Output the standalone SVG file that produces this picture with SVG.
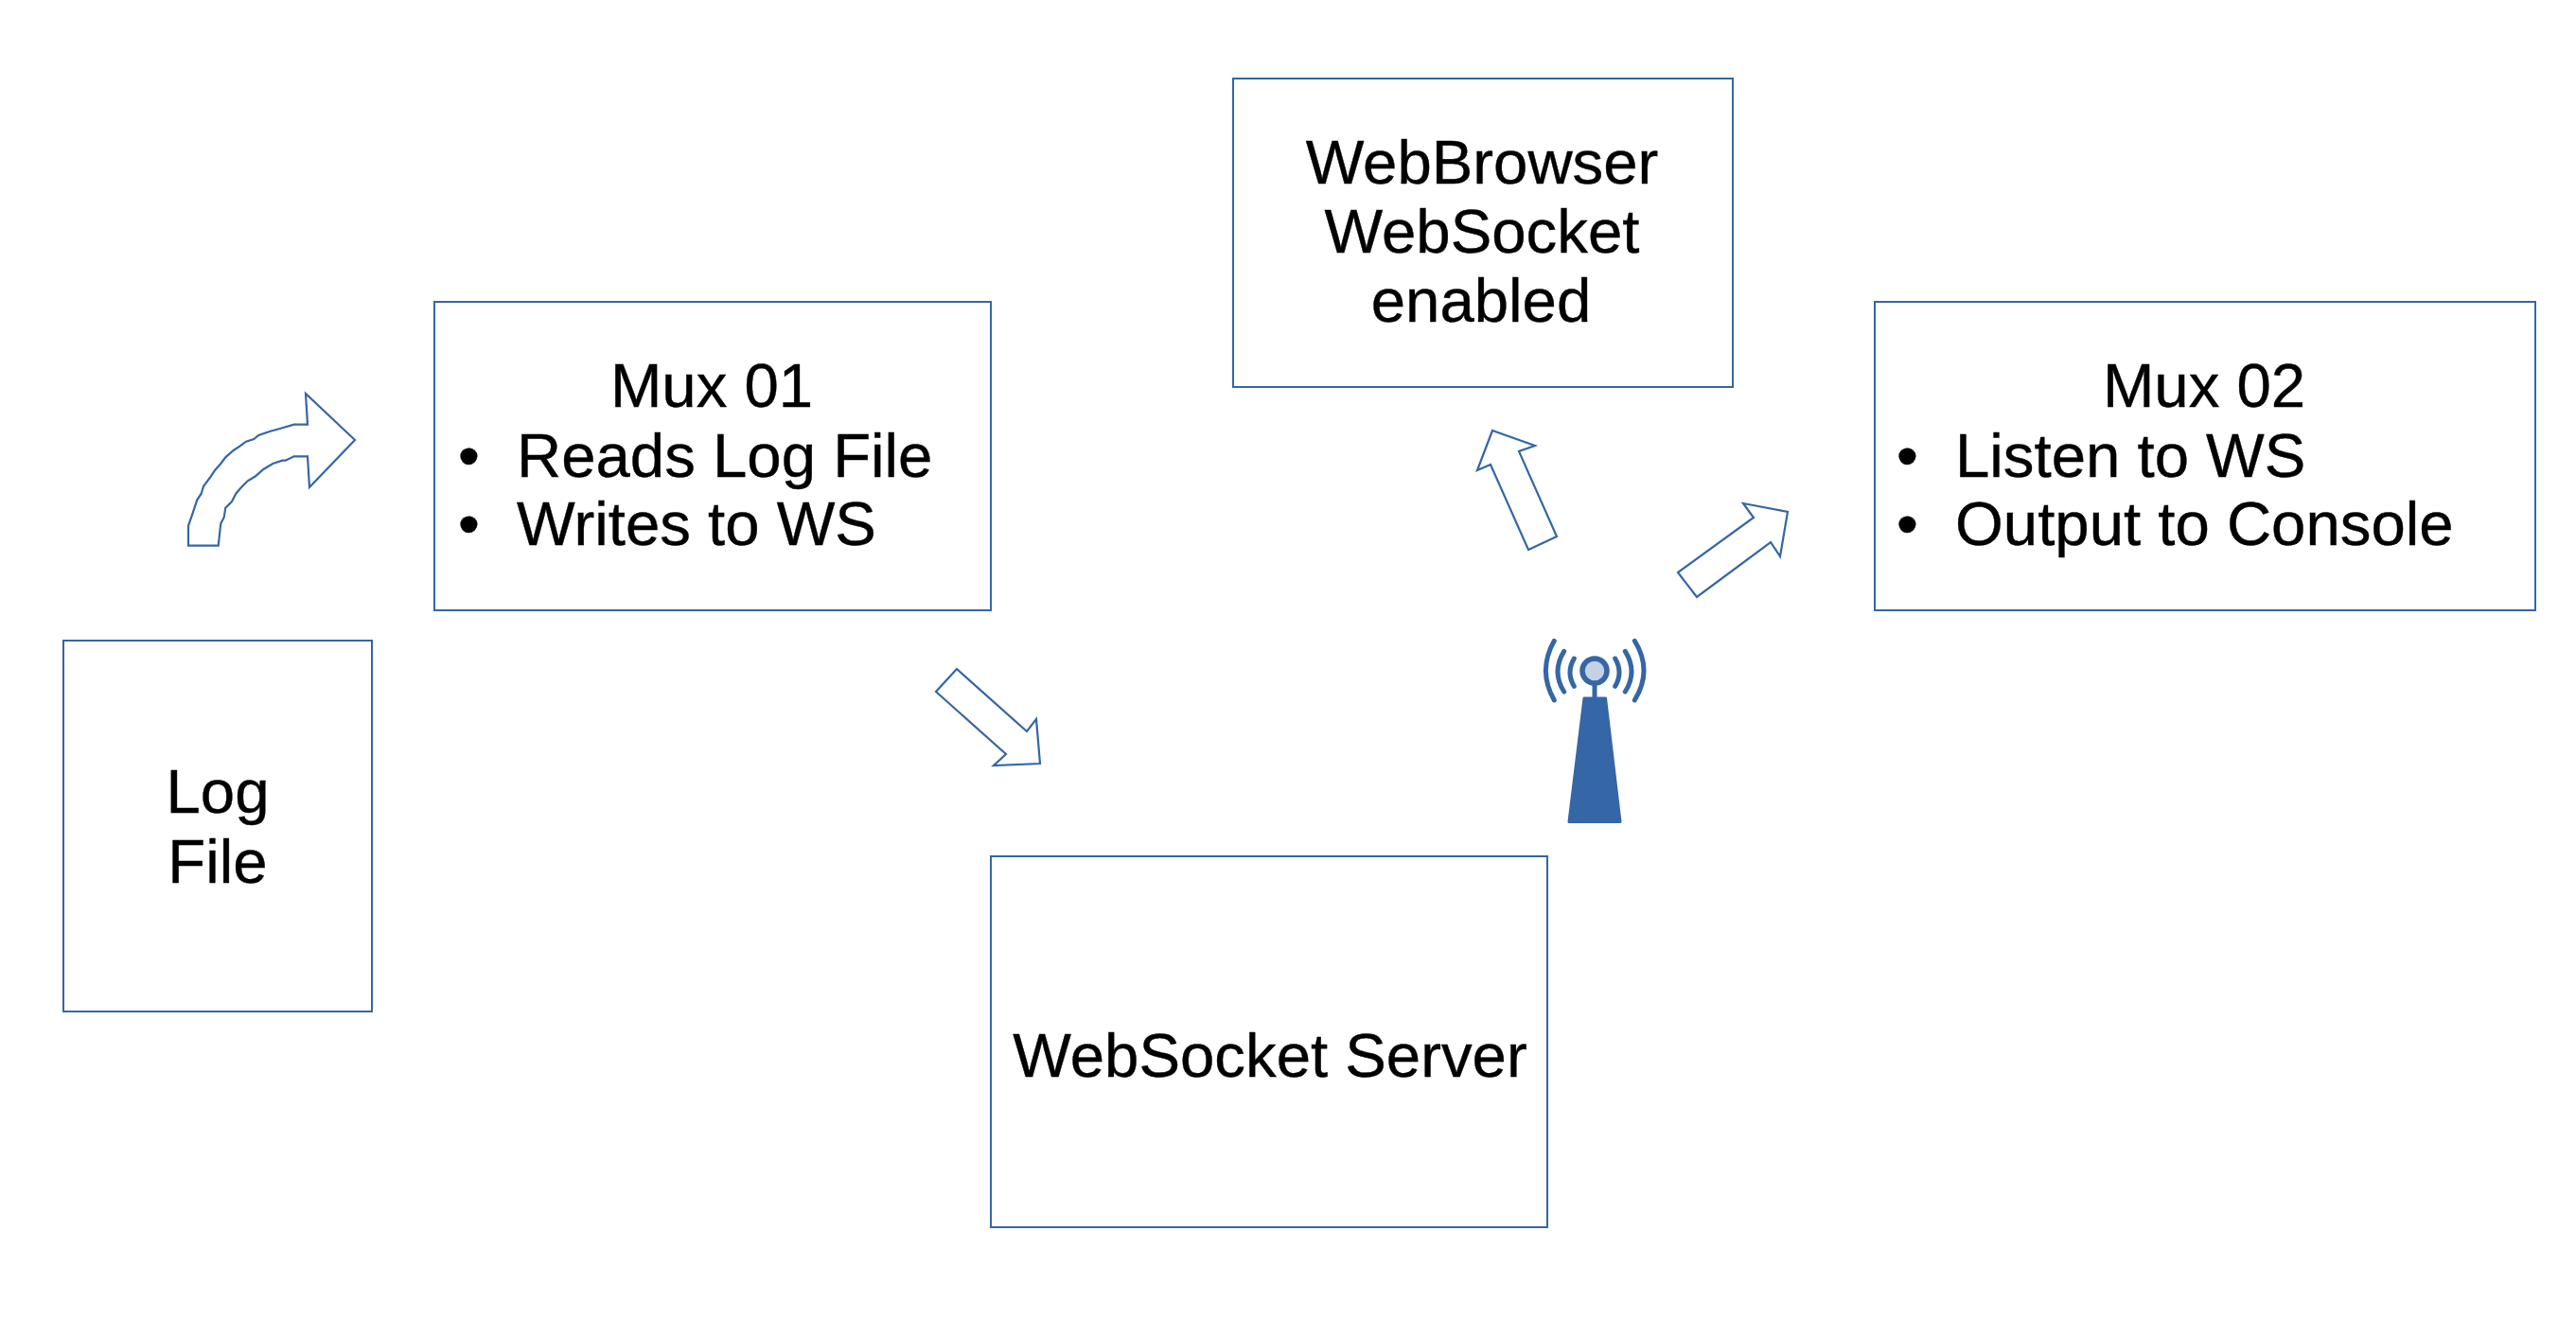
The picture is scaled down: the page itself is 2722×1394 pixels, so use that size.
<svg xmlns="http://www.w3.org/2000/svg" width="2722" height="1394" viewBox="0 0 2722 1394">
<style>
.box{fill:#fff;stroke:#3566a6;stroke-width:2}
.arrow{fill:#fff;stroke:#3566a6;stroke-width:2.2;stroke-linejoin:miter}
.t{font-family:"Liberation Sans",Arial,sans-serif;font-size:65.33px;fill:#000;stroke:#000;stroke-width:.4}
.m{text-anchor:middle}
.wave{fill:none;stroke:#3566a6;stroke-width:5;stroke-linecap:round}
</style>
<rect width="2722" height="1394" fill="#fff"/>
<g id="connectors">
<path class="arrow" d="M375 465L323 416L325 448.7L310.7 448.7L296.7 452.7L285 456L273.3 460L268.3 464L260 466.7L253.3 471.7L246.7 476L238.3 483.3L233.3 490L227.3 496.7L221.7 505L215 514L212.7 521.7L208.3 528.3L203.3 543.3L199 555.7L199 576.7L230.7 576.7L232.7 558.3L233.3 553.3L236.7 546.7L238.3 536.7L245 530L249.3 521.7L255 515L261.7 508.3L270 503.3L278.3 496L288.3 490L298.3 486.7L301.7 486.7L310.7 482.3L325 482.3L327 515Z"/>
<path class="arrow" d="M1011 707L1085 773L1095 760L1099 807L1050 809L1063 797L989 731Z"/>
<path class="arrow" d="M1577 455L1622 471L1605 477L1645 567L1615 581L1575 491L1561 497Z"/>
<path class="arrow" d="M1842 532L1889 541L1881 588L1871 573L1793 631L1773 605L1853 547Z"/>
</g>
<g id="log-file"><rect class="box" x="67" y="677" width="326" height="392"/>
<text class="t m" x="230" y="858.5">Log</text><text class="t m" x="230" y="932.5">File</text></g>
<g id="mux-01"><rect class="box" x="459" y="319" width="588" height="326"/>
<text class="t m" x="752" y="430">Mux 01</text>
<text class="t" x="484" y="503.5">•</text><text class="t" x="546" y="503.5">Reads Log File</text>
<text class="t" x="484" y="576">•</text><text class="t" x="546" y="576">Writes to WS</text></g>
<g id="websocket-server"><rect class="box" x="1047" y="905" width="588" height="392"/>
<text class="t m" x="1342" y="1138">WebSocket Server</text></g>
<g id="web-browser"><rect class="box" x="1303" y="83" width="528" height="326"/>
<text class="t m" x="1566" y="194">WebBrowser</text><text class="t m" x="1566" y="267">WebSocket</text><text class="t m" x="1565" y="340">enabled</text></g>
<g id="mux-02"><rect class="box" x="1981" y="319" width="698" height="326"/>
<text class="t m" x="2329" y="430">Mux 02</text>
<text class="t" x="2004" y="503.5">•</text><text class="t" x="2066" y="503.5">Listen to WS</text>
<text class="t" x="2004" y="576">•</text><text class="t" x="2066" y="576">Output to Console</text></g>
<g id="antenna">
<path d="M1674 738L1696.5 738L1712 868.5L1658 868.5Z" fill="#3566a6" stroke="#3566a6" stroke-width="3" stroke-linejoin="round"/>
<line x1="1685" y1="722" x2="1685" y2="738" stroke="#3566a6" stroke-width="5"/>
<circle cx="1685" cy="709" r="13" fill="#c5d2e6" stroke="#3566a6" stroke-width="5.5"/>
<path class="wave" d="M1663.3 696Q1654.7 710.7 1663.3 725.3"/>
<path class="wave" d="M1652.7 688.3Q1639.3 709.7 1652.7 731"/>
<path class="wave" d="M1642.3 677.3Q1624.5 708.7 1642.3 740"/>
<path class="wave" d="M1706.7 696Q1715.3 710.7 1706.7 725.3"/>
<path class="wave" d="M1717.3 688.3Q1730.7 709.7 1717.3 731"/>
<path class="wave" d="M1727.3 677.3Q1746.7 708.7 1727.3 740"/>
</g>
</svg>
